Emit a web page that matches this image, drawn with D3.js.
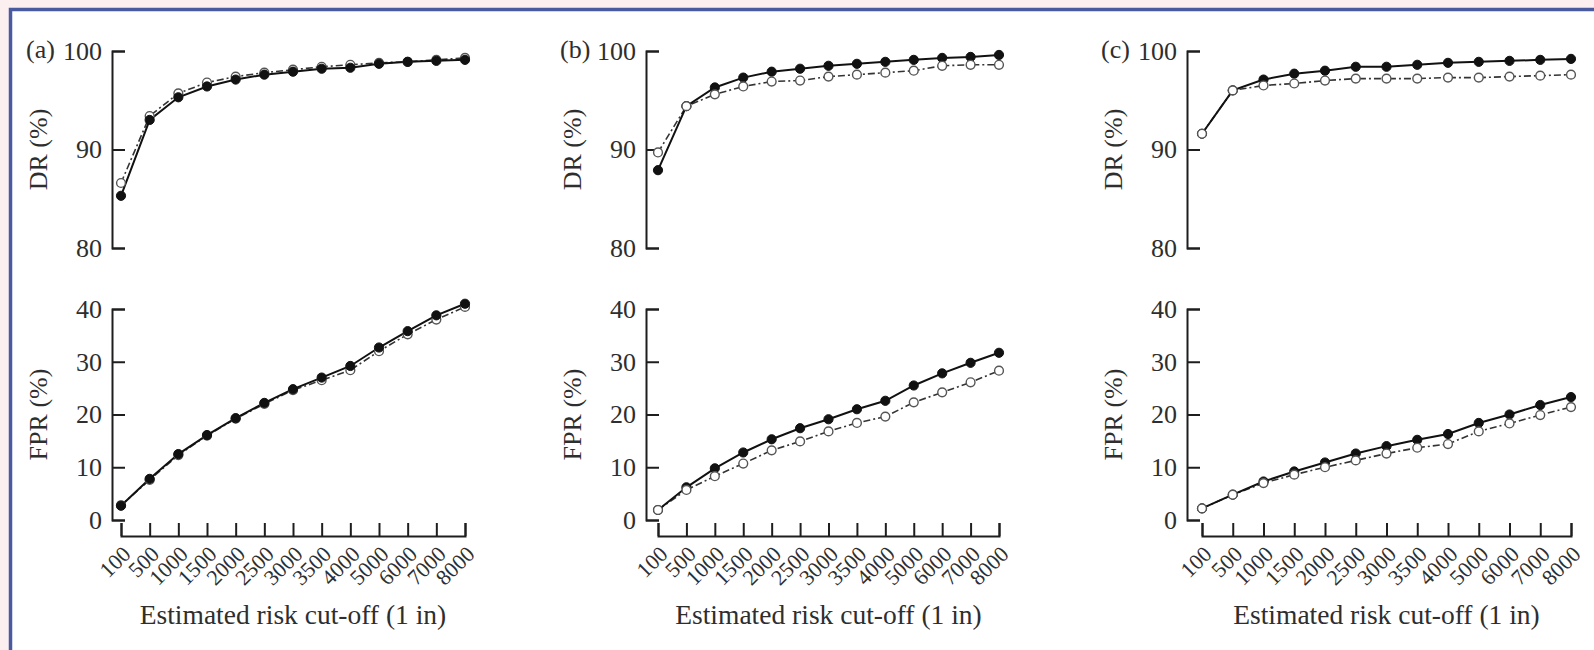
<!DOCTYPE html>
<html>
<head>
<meta charset="utf-8">
<script src="https://cdn.jsdelivr.net/npm/d3@7"></script>
<style>
  body { margin: 0; background: #fbeff0; }
  svg { display: block; }
  text { font-family: 'Liberation Serif', 'DejaVu Serif', serif; fill: #2e2e2e; }
  .axis path, .axis line { stroke: #1e1e1e; stroke-width: 2; }
  .solid-line { fill: none; stroke: #111; stroke-width: 2; }
  .dash-line { fill: none; stroke: #333; stroke-width: 1.6; stroke-dasharray: 7,3,2,3; }
  .dot-filled { fill: #111; stroke: #111; stroke-width: 1; }
  .dot-open { fill: #fff; stroke: #555; stroke-width: 1.4; }
</style>
</head>
<body>
<svg></svg>
<script>
// risk cut-offs (1 in ...)
const cutoffs = ['100', '500', '1000', '1500', '2000', '2500', '3000', '3500', '4000', '5000', '6000', '7000', '8000'];

const drTicks = [80, 90, 100];
const fprTicks = [0, 10, 20, 30, 40];
const panelLabels = ['(a)', '(b)', '(c)'];

// panel (a)
const drFilledA  = [85.3, 93.0, 95.3, 96.4, 97.1, 97.6, 97.9, 98.2, 98.3, 98.7, 98.9, 99.0, 99.1];
const drOpenA    = [86.6, 93.4, 95.7, 96.8, 97.4, 97.8, 98.1, 98.4, 98.6, 98.8, 98.9, 99.1, 99.3];
const fprFilledA = [2.7, 7.8, 12.5, 16.1, 19.3, 22.2, 24.8, 27.0, 29.2, 32.7, 35.8, 38.8, 41.0];
const fprOpenA   = [2.8, 7.6, 12.3, 16.0, 19.2, 22.0, 24.6, 26.5, 28.4, 32.0, 35.2, 38.0, 40.4];

// panel (b)
const drFilledB  = [87.9, 94.4, 96.3, 97.3, 97.9, 98.2, 98.5, 98.7, 98.9, 99.1, 99.3, 99.4, 99.6];
const drOpenB    = [89.7, 94.4, 95.6, 96.4, 96.9, 97.0, 97.4, 97.6, 97.8, 98.0, 98.5, 98.6, 98.6];
const fprFilledB = [1.9, 6.2, 9.8, 12.8, 15.3, 17.4, 19.1, 21.0, 22.6, 25.5, 27.8, 29.8, 31.7];
const fprOpenB   = [1.9, 5.7, 8.3, 10.7, 13.2, 14.9, 16.8, 18.4, 19.6, 22.3, 24.2, 26.1, 28.3];

// panel (c)
const drFilledC  = [91.6, 96.0, 97.1, 97.7, 98.0, 98.4, 98.4, 98.6, 98.8, 98.9, 99.0, 99.1, 99.2];
const drOpenC    = [91.6, 96.0, 96.5, 96.7, 97.0, 97.2, 97.2, 97.2, 97.3, 97.3, 97.4, 97.5, 97.6];
const fprFilledC = [2.2, 4.8, 7.3, 9.2, 10.9, 12.6, 14.0, 15.2, 16.3, 18.4, 20.0, 21.8, 23.3];
const fprOpenC   = [2.2, 4.8, 7.0, 8.6, 10.0, 11.3, 12.6, 13.7, 14.4, 16.8, 18.3, 19.9, 21.4];

const panels = [
  { label: panelLabels[0], dr: [drFilledA, drOpenA], fpr: [fprFilledA, fprOpenA] },
  { label: panelLabels[1], dr: [drFilledB, drOpenB], fpr: [fprFilledB, fprOpenB] },
  { label: panelLabels[2], dr: [drFilledC, drOpenC], fpr: [fprFilledC, fprOpenC] }
];

// layout of each panel
const layout = [
  { axisX: 112, x0: 121, x1: 465, openOnTop: false },
  { axisX: 646, x0: 658, x1: 999, openOnTop: true },
  { axisX: 1187, x0: 1202, x1: 1571, openOnTop: true }
];

const width = 1594, height = 650;
const svg = d3.select('svg')
  .attr('width', width)
  .attr('height', height);

// frame
svg.append('rect')
  .attr('x', 10).attr('y', 9)
  .attr('width', width - 10).attr('height', height - 9)
  .attr('fill', '#fff');
svg.append('path')
  .attr('d', `M10.5,${height} V9.5 H${width}`)
  .attr('fill', 'none')
  .attr('stroke', '#4a5a9e')
  .attr('stroke-width', 3.5);

const drY = d3.scaleLinear().domain([80, 100]).range([248, 51]);
const fprY = d3.scaleLinear().domain([0, 40]).range([520, 309]);
const xAxisY = 536;

panels.forEach((p, k) => {
  const L = layout[k];
  const x = d3.scalePoint().domain(cutoffs).range([L.x0, L.x1]);
  const g = svg.append('g');

  const drawPart = (yScale, ticks, series, title) => {
    const yAxis = d3.axisLeft(yScale)
      .tickValues(ticks)
      .tickSize(-13)
      .tickPadding(10);
    const yg = g.append('g')
      .attr('class', 'axis')
      .attr('transform', `translate(${L.axisX},0)`)
      .call(yAxis);
    yg.selectAll('text')
      .style('font-size', '26px')
      .attr('fill', '#2e2e2e');

    const [r0, r1] = yScale.range();
    g.append('text')
      .attr('transform', `translate(${L.axisX - 74},${(r0 + r1) / 2}) rotate(-90)`)
      .attr('text-anchor', 'middle')
      .attr('dy', '0.35em')
      .style('font-size', '26px')
      .text(title);

    const line = d3.line()
      .x((d, i) => x(cutoffs[i]))
      .y(d => yScale(d));

    g.append('path').attr('class', 'dash-line').attr('d', line(series[1]));
    g.append('path').attr('class', 'solid-line').attr('d', line(series[0]));

    const drawDots = (vals, cls, r) => {
      g.append('g').selectAll('circle')
        .data(vals)
        .enter().append('circle')
        .attr('class', cls)
        .attr('cx', (d, i) => x(cutoffs[i]))
        .attr('cy', d => yScale(d))
        .attr('r', r);
    };
    if (L.openOnTop) {
      drawDots(series[0], 'dot-filled', 4.6);
      drawDots(series[1], 'dot-open', 4.4);
    } else {
      drawDots(series[1], 'dot-open', 4.4);
      drawDots(series[0], 'dot-filled', 4.6);
    }
  };

  drawPart(drY, drTicks, p.dr, 'DR (%)');
  drawPart(fprY, fprTicks, p.fpr, 'FPR (%)');

  // x axis
  const xAxis = d3.axisBottom(x).tickSize(-13).tickPadding(0);
  const xg = g.append('g')
    .attr('class', 'axis')
    .attr('transform', `translate(0,${xAxisY})`)
    .call(xAxis);
  xg.selectAll('text')
    .attr('x', 0).attr('y', 0)
    .attr('dy', '0.35em')
    .attr('text-anchor', 'end')
    .attr('transform', 'translate(5,14) rotate(-45)')
    .style('font-size', '22px')
    .attr('fill', '#2e2e2e');

  g.append('text')
    .attr('x', (L.x0 + L.x1) / 2)
    .attr('y', 624)
    .attr('text-anchor', 'middle')
    .style('font-size', '27.5px')
    .text('Estimated risk cut-off (1 in)');

  g.append('text')
    .attr('x', L.axisX - 86)
    .attr('y', 58)
    .style('font-size', '26px')
    .text(p.label);
});
</script>
</body>
</html>
